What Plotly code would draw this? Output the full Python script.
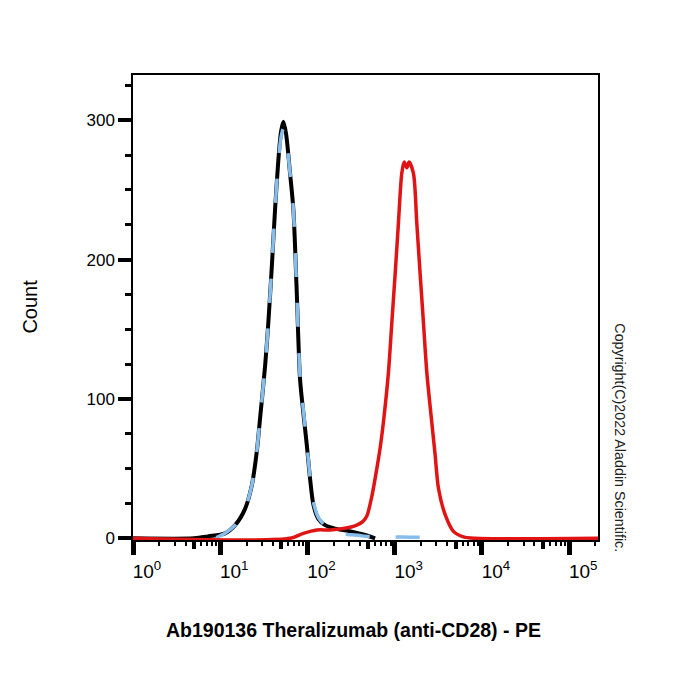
import plotly.graph_objects as go

# ---- data ----
black_x = [1, 5, 7.24, 11.35, 14.8, 19.2, 23.0, 26.2, 28.6, 32.7, 35.6, 39.0, 42.5, 46.3, 49.8, 53.0,
           56.9, 63.1, 68.9, 75.0, 82.2, 89.7, 98.2, 107, 117, 133, 159, 207, 322, 458, 596]
black_y = [0, 0, 1.4, 3.6, 9.5, 21, 38, 62, 86, 124, 155, 195, 236, 271, 292, 299,
           290, 262, 236, 180, 114, 90, 67, 43, 24, 14, 9.5, 7, 4.8, 2.4, 0]

blue_x = [9.0, 11.35, 14.8, 19.2, 23.0, 26.2, 28.6, 32.7, 35.6, 39.0, 42.5, 46.3, 49.8, 53.0, 56.9,
          63.1, 68.9, 75.0, 82.2, 89.7, 98.2, 107, 117, 133, 159, 207, 260, 322, 400, 458, 600,
          1000, 1500, 2700, 3000]
blue_y = [0.5, 3.6, 9.5, 21, 38, 62, 86, 124, 155, 195, 236, 270, 288, 294, 287,
          262, 236, 180, 116, 92, 68, 44, 26, 15, 9, 4, 3, 2.5, 2, 1.5, 1,
          1, 0.8, 0.5, 0]

red_x = [1, 63.1, 89.7, 128, 182, 258, 367, 430, 479, 546, 604, 681, 741, 847, 927, 1012, 1102,
         1205, 1282, 1377, 1462, 1637, 1791, 1954, 2133, 2333, 2661, 2904, 3170, 3784, 4710, 6138,
         8356, 215000]
red_y = [0, 0, 3.6, 6, 6, 7, 9.5, 12, 16, 30, 45, 65, 83, 119, 155, 190, 226,
         262, 270, 266, 270, 262, 226, 190, 155, 119, 83, 60, 36, 17, 5, 1,
         0, 0]

y_major = [0, 100, 200, 300]
y_major_text = ["0", "100", "200", "300"]
y_minor = [25, 50, 75, 125, 150, 175, 225, 250, 275, 325]

x_major = [1, 10, 100, 1000, 10000, 100000]
x_major_text = ["10<sup>0</sup>", "10<sup>1</sup>", "10<sup>2</sup>", "10<sup>3</sup>",
                "10<sup>4</sup>", "10<sup>5</sup>"]
x_mid = [5, 50, 500, 5000, 50000]
x_minor = [m * d for d in [1, 10, 100, 1000, 10000, 100000] for m in [2, 3, 4, 6, 7, 8, 9]]

x_title = "Ab190136 Theralizumab (anti-CD28) - PE"
y_title = "Count"
copyright_text = "Copyright(C)2022 Aladdin Scientific."

XR = [0, 5.33]
YR = [-1.2, 332.5]

fig = go.Figure()
fig.add_trace(go.Scatter(x=black_x, y=black_y, mode="lines",
                         line=dict(color="#000000", width=4, shape="spline", smoothing=0.8),
                         showlegend=False, hoverinfo="skip"))
fig.add_trace(go.Scatter(x=blue_x, y=blue_y, mode="lines",
                         line=dict(color="#86BDEB", width=3.5, dash="24px,26px",
                                   shape="spline", smoothing=0.8),
                         showlegend=False, hoverinfo="skip"))
fig.add_trace(go.Scatter(x=red_x, y=red_y, mode="lines",
                         line=dict(color="#E01414", width=3.5, shape="spline", smoothing=0.8),
                         showlegend=False, hoverinfo="skip"))
# dummy trace to hold the overlay tick axis
fig.add_trace(go.Scatter(x=[10], y=[None], xaxis="x2", yaxis="y", mode="lines",
                         showlegend=False, hoverinfo="skip"))

font = "Liberation Sans, Arial, sans-serif"

fig.update_layout(
    width=700, height=700,
    margin=dict(l=133, r=102, t=75, b=160),
    paper_bgcolor="white", plot_bgcolor="white",
    font=dict(family=font, color="#000000"),
    xaxis=dict(type="log", range=XR, showgrid=False, zeroline=False,
               showline=True, linecolor="#000", linewidth=1.5, mirror=True,
               tickmode="array", tickvals=x_major, ticktext=x_major_text,
               ticks="outside", ticklen=13, tickwidth=5, tickcolor="#000",
               tickfont=dict(size=19, family=font), ticklabelshift=14,
               minor=dict(tickvals=x_minor, ticks="outside", ticklen=4, tickwidth=2,
                          tickcolor="#000", showgrid=False),
               layer="below traces"),
    xaxis2=dict(type="log", range=XR, overlaying="x", anchor="y", side="bottom",
                showgrid=False, zeroline=False, showline=False, showticklabels=False,
                tickmode="array", tickvals=x_mid, ticks="outside", ticklen=8, tickwidth=4,
                tickcolor="#000"),
    yaxis=dict(range=YR, showgrid=False, zeroline=False,
               showline=True, linecolor="#000", linewidth=1.5, mirror=True,
               tickmode="array", tickvals=y_major, ticktext=y_major_text,
               ticks="outside", ticklen=13, tickwidth=4, tickcolor="#000",
               tickfont=dict(size=17, family=font),
               minor=dict(tickvals=y_minor, ticks="outside", ticklen=6, tickwidth=2.5,
                          tickcolor="#000", showgrid=False),
               layer="below traces"),
    annotations=[
        dict(text=y_title, xref="paper", yref="paper", x=-0.2215, y=0.502,
             xanchor="center", yanchor="middle", textangle=-90, showarrow=False,
             font=dict(size=20, family=font, color="#000")),
        dict(text="<b>" + x_title + "</b>", xref="paper", yref="paper", x=0.474, y=-0.1935,
             xanchor="center", yanchor="middle", showarrow=False,
             font=dict(size=19.5, family=font, color="#000")),
        dict(text=copyright_text, xref="paper", yref="paper", x=1.047, y=0.219,
             xanchor="center", yanchor="middle", textangle=90, showarrow=False,
             font=dict(size=14.3, family=font, color="#222")),
    ],
)

fig.write_html("out.html")
